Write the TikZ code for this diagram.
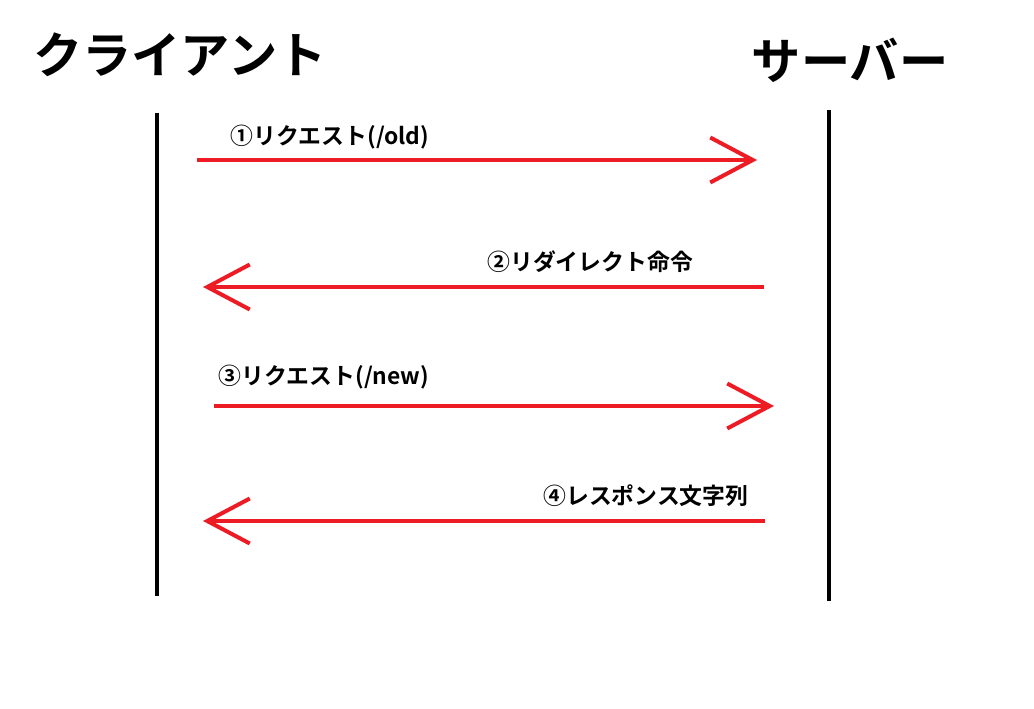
\documentclass[tikz,border=0pt]{standalone}
\usepackage{fontspec}
\setmainfont{Noto Sans CJK JP}[BoldFont={* Bold}]
\usetikzlibrary{arrows.meta}
\definecolor{ar}{RGB}{237,28,36}
\begin{document}
\begin{tikzpicture}[x=0.02cm,y=-0.02cm,
  life/.style={line width=0.08cm,black},
  msg/.style={line width=0.08cm,ar,-{Straight Barb[length=0.85cm,width=0.9cm,line width=0.08cm]}},
  ttl/.style={font=\fontsize{28}{28}\selectfont\bfseries,inner sep=0},
  lbl/.style={font=\fontsize{13}{13}\selectfont\bfseries,inner sep=0}]
\useasboundingbox (0,0) rectangle (1034,709);
\node[ttl] (c) at (180,55) {クライアント};
\node[ttl] (s) at (850,60) {サーバー};
\coordinate (l1) at (157,113); \coordinate (l2) at (157,596);
\coordinate (r1) at (829,110); \coordinate (r2) at (829,601);
\draw[life] (l1) -- (l2);
\draw[life] (r1) -- (r2);
\coordinate (a1) at (197,160); \coordinate (b1) at (757,160);
\coordinate (a2) at (764,287); \coordinate (b2) at (203,287);
\coordinate (a3) at (214,406); \coordinate (b3) at (774,406);
\coordinate (a4) at (765,521); \coordinate (b4) at (203,521);
\draw[msg] (a1) -- (b1);
\draw[msg] (a2) -- (b2);
\draw[msg] (a3) -- (b3);
\draw[msg] (a4) -- (b4);
\node[lbl,anchor=west] (t1) at (230,137) {①リクエスト(/old)};
\node[lbl,anchor=west] (t2) at (487,262) {②リダイレクト命令};
\node[lbl,anchor=west] (t3) at (218,377) {③リクエスト(/new)};
\node[lbl,anchor=west] (t4) at (543,496) {④レスポンス文字列};
\end{tikzpicture}
\end{document}
